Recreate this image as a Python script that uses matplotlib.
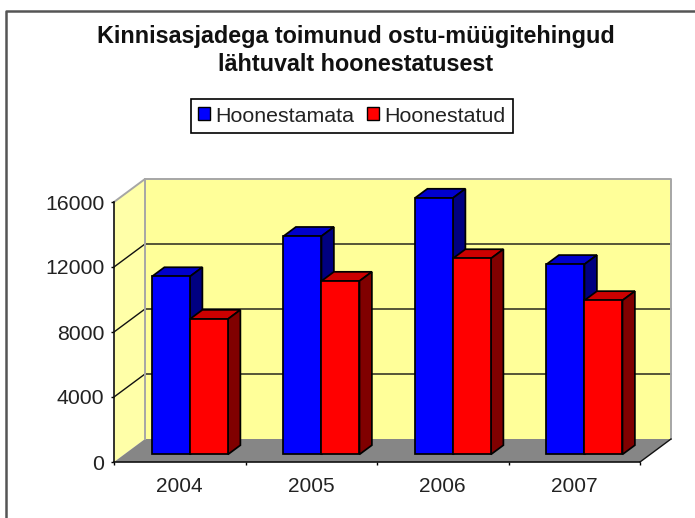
import matplotlib
matplotlib.use('Agg')
import matplotlib.pyplot as plt
from matplotlib.lines import Line2D
from matplotlib.patches import Patch, Polygon

plt.rcParams['font.family'] = ['Liberation Sans', 'DejaVu Sans']

years = ['2004', '2005', '2006', '2007']
hoonestamata = [10950, 13430, 15780, 11700]
hoonestatud = [8330, 10670, 12060, 9480]
yticks = [0, 4000, 8000, 12000, 16000]
title = 'Kinnisasjadega toimunud ostu-müügitehingud\nlähtuvalt hoonestatusest'

# nihe 3D sügavuse jaoks, andmeühikutes
DX = 31 / 131.5
DY = 23 / 65 * 4000
BAR_W = 0.289
D0 = 0.33
D1 = 0.73


def pt(x, y, d=0.0):
    return (x + d * DX, y + d * DY)


def poly(ax, pts, color, edge='none', lw=1.0, z=1):
    ax.add_patch(Polygon(pts, closed=True, facecolor=color, edgecolor=edge,
                         linewidth=lw, zorder=z, clip_on=False, joinstyle='miter'))


def bar3d(ax, x, val, front, top, side, z):
    x2 = x + BAR_W
    poly(ax, [pt(x, val, D0), pt(x2, val, D0), pt(x2, val, D1), pt(x, val, D1)], top, 'black', 1.25, z)
    poly(ax, [pt(x2, 0, D0), pt(x2, val, D0), pt(x2, val, D1), pt(x2, 0, D1)], side, 'black', 1.25, z)
    poly(ax, [pt(x, 0, D0), pt(x2, 0, D0), pt(x2, val, D0), pt(x, val, D0)], front, 'black', 1.25, z)


fig = plt.figure(figsize=(6.95, 5.18), dpi=100)
ax = fig.add_axes([114 / 695, (518 - 462) / 518, 526 / 695, 260 / 518])
ax.patch.set_visible(False)
ax.set_xlim(0, 4)
ax.set_ylim(0, 16000)

n = len(years)
top = yticks[-1]
poly(ax, [pt(0, 0), pt(0, 0, 1), pt(0, top, 1), pt(0, top)], '#FFFFA8', z=1)
poly(ax, [pt(0, 0, 1), pt(n, 0, 1), pt(n, top, 1), pt(0, top, 1)], '#FFFF99', z=1)
poly(ax, [pt(0, 0), pt(n, 0), pt(n, 0, 1), pt(0, 0, 1)], '#868686', z=1)

for v in yticks[1:-1]:
    ax.plot(*zip(pt(0, v), pt(0, v, 1), pt(n, v, 1)), color='#111111', lw=1.0, zorder=1.5, clip_on=False)
ax.plot(*zip(pt(0, top), pt(0, top, 1), pt(n, top, 1), pt(n, 0, 1)), color='#A6A6A6', lw=1.4, zorder=1.5, clip_on=False)
ax.plot(*zip(pt(0, 0, 1), pt(0, top, 1)), color='#A6A6A6', lw=1.4, zorder=1.5, clip_on=False)
ax.plot(*zip(pt(n, 0), pt(n, 0, 1)), color='#111111', lw=1.0, zorder=1.5, clip_on=False)

for i in range(n):
    bar3d(ax, i + 0.5 - BAR_W, hoonestamata[i], '#0000FF', '#0000CC', '#000080', 3 + i)
    bar3d(ax, i + 0.5, hoonestatud[i], '#FF0000', '#CC0000', '#800000', 3.5 + i)

for s in ['top', 'right']:
    ax.spines[s].set_visible(False)
for s in ['left', 'bottom']:
    ax.spines[s].set_linewidth(1.2)
    ax.spines[s].set_color('#111111')
ax.set_yticks(yticks)
ax.set_xticks(range(n + 1))
ax.set_xticklabels([])
ax.set_xticks([i + 0.5 for i in range(n)], labels=years, minor=True)
ax.tick_params(axis='x', which='major', length=2, width=1)
ax.tick_params(axis='x', which='minor', length=0, pad=11, labelsize=15, labelcolor='#222222')
ax.tick_params(axis='y', length=2, width=1, pad=5, labelsize=15.3, labelcolor='#222222')

fig.text(356 / 695, 1 - 50.5 / 518, title, ha='center', va='center', fontsize=16.8,
         fontweight='bold', color='#111111', linespacing=1.28)

handles = [Patch(facecolor='#0000FF', edgecolor='black', label='Hoonestamata'),
           Patch(facecolor='#FF0000', edgecolor='black', label='Hoonestatud')]
leg = fig.legend(handles=handles, loc='center', bbox_to_anchor=(352 / 695, 1 - 116 / 518), ncol=2,
                 fontsize=15.4, fancybox=False, framealpha=1, edgecolor='black',
                 handlelength=0.55, handleheight=0.55, handletextpad=0.25, columnspacing=0.6,
                 borderpad=0.35, borderaxespad=0)
leg.get_frame().set_linewidth(1.2)
for t in leg.get_texts():
    t.set_color('#222222')

# välimine raam, ainult vasak ja ülemine serv
fig.add_artist(Line2D([6 / 695, 6 / 695, 1], [0, 1 - 11 / 518, 1 - 11 / 518],
                      transform=fig.transFigure, color='#555555', lw=1.8))

fig.savefig('out.png', dpi=100)
